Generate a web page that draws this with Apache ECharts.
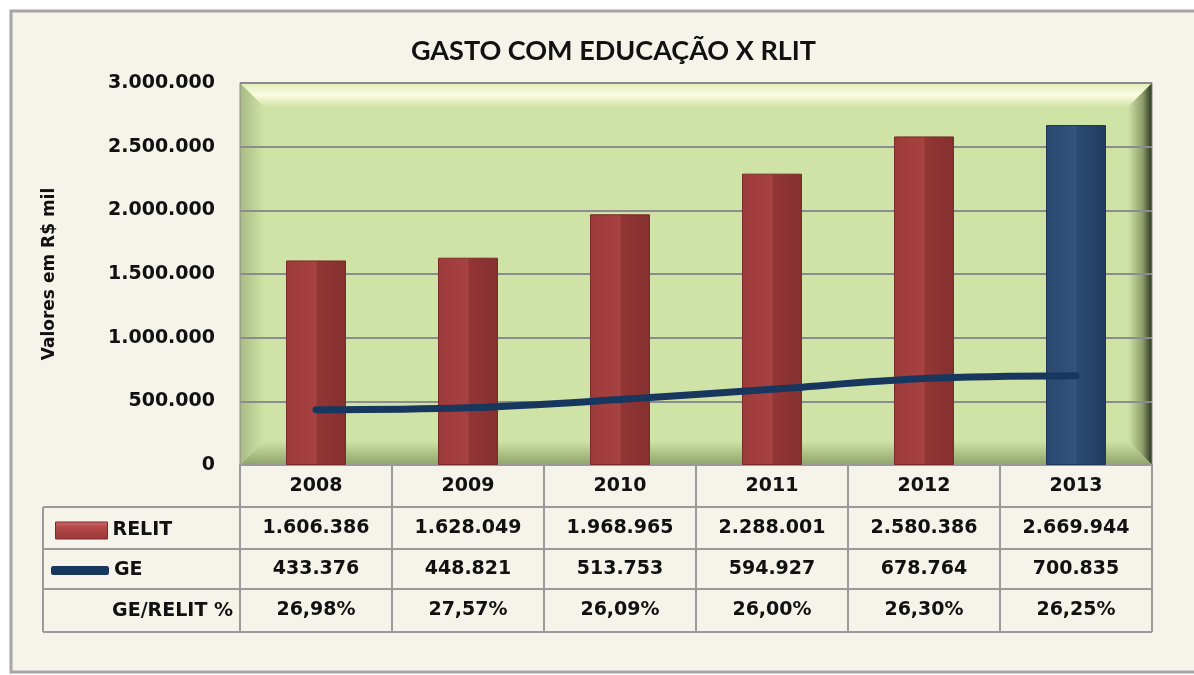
<!DOCTYPE html>
<html>
<head>
<meta charset="utf-8">
<title>GASTO COM EDUCAÇÃO X RLIT</title>
<script src="https://cdn.jsdelivr.net/npm/echarts@6/dist/echarts.min.js"></script>
<style>
	html, body { margin: 0; padding: 0; background: #ffffff; }
	#chart { width: 1194px; height: 675px; }
</style>
</head>
<body>
<div id="chart"></div>
<script>
// dados
var years = ['2008', '2009', '2010', '2011', '2012', '2013'];
var relit = [1606386, 1628049, 1968965, 2288001, 2580386, 2669944];
var ge = [433376, 448821, 513753, 594927, 678764, 700835];
var ratio = [26.98, 27.57, 26.09, 26.00, 26.30, 26.25];
var yMin = 0, yMax = 3000000, yStep = 500000;

// layout
var L = 240, T = 83, R = 1152, B = 465, bev = 24;
var tableLeft = 43;
var rowLines = [507, 549, 589, 632];
var FONT = 'DejaVu Sans';
var lineColor = '#9a9a9a';

function milhar(n) {
	return String(n).replace(/\B(?=(\d{3})+(?!\d))/g, '.');
}

var redFill = new echarts.graphic.LinearGradient(0, 0, 1, 0, [
	{ offset: 0, color: '#9c3a3a' },
	{ offset: 0.5, color: '#a84242' },
	{ offset: 0.52, color: '#933535' },
	{ offset: 1, color: '#853030' }
]);
var blueFill = new echarts.graphic.LinearGradient(0, 0, 1, 0, [
	{ offset: 0, color: '#2a4870' },
	{ offset: 0.5, color: '#33537d' },
	{ offset: 0.52, color: '#2b4a72' },
	{ offset: 1, color: '#223c5f' }
]);
var legendRed = new echarts.graphic.LinearGradient(0, 0, 0, 1, [
	{ offset: 0, color: '#d56a6a' },
	{ offset: 0.3, color: '#b54a4a' },
	{ offset: 1, color: '#9a3838' }
]);

var barData = relit.map(function(v, i) {
	if (i == relit.length - 1) {
		return { value: v, itemStyle: { color: blueFill, borderColor: '#1f3656' } };
	}
	return v;
});

// linha extra do eixo x para cada linha da tabela
function tableAxis(offset, values) {
	return {
		type: 'category',
		data: years,
		position: 'bottom',
		offset: offset,
		axisLine: { show: false },
		axisTick: { show: false },
		axisLabel: {
			margin: 12,
			color: '#111',
			fontFamily: FONT,
			fontWeight: 'bold',
			fontSize: 19,
			formatter: function(v, i) {
				return values[i];
			}
		}
	};
}

var chart = echarts.init(document.getElementById('chart'));
var option = {
	backgroundColor: '#ffffff',
	animation: false,
	title: {
		text: 'GASTO COM EDUCAÇÃO X RLIT',
		left: 406,
		top: 33,
		textStyle: { fontFamily: 'Lato', fontWeight: 'bold', fontSize: 27, color: '#111' }
	},
	legend: [{
		data: [{ name: 'RELIT', icon: 'rect', itemStyle: { color: legendRed, borderColor: '#7a2a2a', borderWidth: 1 } }],
		left: 50,
		top: 516,
		itemWidth: 52,
		itemHeight: 17,
		textStyle: { fontFamily: FONT, fontWeight: 'bold', fontSize: 19, color: '#111' }
	}, {
		data: [{ name: 'GE', icon: 'roundRect' }],
		left: 46,
		top: 556,
		itemWidth: 58,
		itemHeight: 9,
		textStyle: { fontFamily: FONT, fontWeight: 'bold', fontSize: 19, color: '#111' }
	}],
	grid: {
		left: L,
		top: T,
		right: 1194 - R,
		bottom: 675 - B,
		show: true,
		backgroundColor: 'transparent',
		borderColor: '#8a8a8a',
		borderWidth: 1
	},
	xAxis: [{
		type: 'category',
		data: years,
		position: 'bottom',
		axisLine: { show: true, lineStyle: { color: lineColor, width: 2 } },
		axisTick: { show: true, length: 167, lineStyle: { color: lineColor, width: 2 } },
		axisLabel: { margin: 12, color: '#111', fontFamily: FONT, fontWeight: 'bold', fontSize: 19 }
	},
		tableAxis(42, relit.map(milhar)),
		tableAxis(83, ge.map(milhar)),
		tableAxis(124, ratio.map(function(r) { return r.toFixed(2).replace('.', ',') + '%'; }))
	],
	yAxis: {
		type: 'value',
		min: yMin,
		max: yMax,
		interval: yStep,
		name: 'Valores em R$ mil',
		nameLocation: 'middle',
		nameGap: 182,
		nameTextStyle: { fontFamily: FONT, fontWeight: 'bold', fontSize: 17, color: '#111' },
		axisLine: { show: false },
		axisTick: { show: false },
		splitLine: { lineStyle: { color: '#8c8c8c', width: 2 } },
		axisLabel: {
			margin: 25,
			color: '#111',
			fontFamily: FONT,
			fontWeight: 'bold',
			fontSize: 19,
			formatter: function(v) { return milhar(v); }
		}
	},
	graphic: [
		// moldura externa
		{ type: 'rect', z: -20, shape: { x: 11, y: 11, width: 1200, height: 661 },
			style: { fill: '#f5f3ea', stroke: '#a6a6a6', lineWidth: 3 } },
		// fundo da área do gráfico com chanfro
		{ type: 'rect', z: -15, shape: { x: L, y: T, width: R - L, height: B - T }, style: { fill: '#d0e3a6' } },
		{ type: 'polygon', z: -14, shape: { points: [[L, T], [R, T], [R - bev, T + bev], [L + bev, T + bev]] },
			style: { fill: new echarts.graphic.LinearGradient(0, 0, 0, 1, [
				{ offset: 0, color: '#dfecb8' }, { offset: 0.5, color: '#fbfde0' }, { offset: 1, color: '#d0e3a6' }]) } },
		{ type: 'polygon', z: -14, shape: { points: [[L, T], [L + bev, T + bev], [L + bev, B - bev], [L, B]] },
			style: { fill: new echarts.graphic.LinearGradient(0, 0, 1, 0, [
				{ offset: 0, color: '#a9bb84' }, { offset: 1, color: '#d0e3a6' }]) } },
		{ type: 'polygon', z: -14, shape: { points: [[R, T], [R, B], [R - bev, B - bev], [R - bev, T + bev]] },
			style: { fill: new echarts.graphic.LinearGradient(0, 0, 1, 0, [
				{ offset: 0, color: '#d0e3a6' }, { offset: 0.6, color: '#8f9e6c' }, { offset: 1, color: '#2b3320' }]) } },
		{ type: 'polygon', z: -14, shape: { points: [[L, B], [L + bev, B - bev], [R - bev, B - bev], [R, B]] },
			style: { fill: new echarts.graphic.LinearGradient(0, 0, 0, 1, [
				{ offset: 0, color: '#d0e3a6' }, { offset: 1, color: '#8fa268' }]) } },
		// linhas da tabela
		{ type: 'line', z: 5, shape: { x1: tableLeft, y1: rowLines[0], x2: R, y2: rowLines[0] }, style: { stroke: lineColor, lineWidth: 2 } },
		{ type: 'line', z: 5, shape: { x1: tableLeft, y1: rowLines[1], x2: R, y2: rowLines[1] }, style: { stroke: lineColor, lineWidth: 2 } },
		{ type: 'line', z: 5, shape: { x1: tableLeft, y1: rowLines[2], x2: R, y2: rowLines[2] }, style: { stroke: lineColor, lineWidth: 2 } },
		{ type: 'line', z: 5, shape: { x1: tableLeft, y1: rowLines[3], x2: R, y2: rowLines[3] }, style: { stroke: lineColor, lineWidth: 2 } },
		{ type: 'line', z: 5, shape: { x1: tableLeft, y1: rowLines[0], x2: tableLeft, y2: rowLines[3] }, style: { stroke: lineColor, lineWidth: 2 } },
		{ type: 'text', z: 5, x: 233, y: 611,
			style: { text: 'GE/RELIT %', align: 'right', verticalAlign: 'middle', fill: '#111',
				font: 'bold 19px "DejaVu Sans"' } }
	],
	series: [{
		name: 'RELIT',
		type: 'bar',
		data: barData,
		barWidth: 60,
		itemStyle: { color: redFill, borderColor: '#7a2a2a', borderWidth: 1 }
	}, {
		name: 'GE',
		type: 'line',
		data: ge,
		smooth: 0.35,
		symbol: 'none',
		lineStyle: { color: '#17375e', width: 7, cap: 'round' },
		itemStyle: { color: '#17375e' },
		z: 4
	}]
};
chart.setOption(option);
</script>
</body>
</html>
